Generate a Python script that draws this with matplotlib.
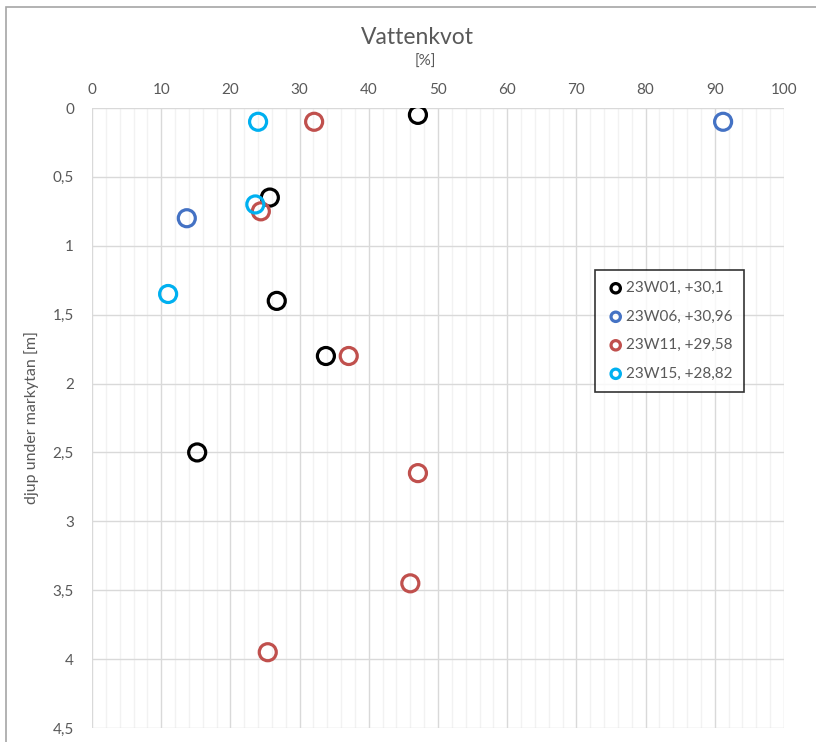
import numpy as np
import matplotlib.pyplot as plt
from matplotlib.patches import Rectangle
from matplotlib.ticker import MultipleLocator, FuncFormatter

plt.rcParams['font.family'] = ['Lato', 'DejaVu Sans']

# vattenkvot [%] och djup [m] per borrpunkt
w01_x = [47.1, 25.7, 26.7, 33.8, 15.2]
w01_y = [0.05, 0.65, 1.4, 1.8, 2.5]
w06_x = [91.2, 13.7]
w06_y = [0.1, 0.8]
w11_x = [32.1, 24.4, 37.1, 47.1, 46.0, 25.4]
w11_y = [0.1, 0.75, 1.8, 2.65, 3.45, 3.95]
w15_x = [24.0, 23.6, 11.0]
w15_y = [0.1, 0.7, 1.35]

labels = ['23W01, +30,1', '23W06, +30,96', '23W11, +29,58', '23W15, +28,82']
colors = ['#000000', '#4472C4', '#C0504D', '#00B0F0']

txt = '#595959'

fig = plt.figure(figsize=(8.16, 7.42), dpi=100)
ax = fig.add_axes([92/816, 14/742, 692/816, 620/742])

series = [(w01_x, w01_y), (w06_x, w06_y), (w11_x, w11_y), (w15_x, w15_y)]
for (xs, ys), lab, c in zip(series, labels, colors):
    ax.scatter(xs, ys, s=150, facecolors='none', edgecolors=c, linewidths=2.3,
               label=lab, zorder=3)

ax.set_xlim(0, 100)
ax.set_ylim(4.5, 0)
ax.xaxis.set_major_locator(MultipleLocator(10))
ax.xaxis.set_minor_locator(MultipleLocator(2))
ax.yaxis.set_major_locator(MultipleLocator(0.5))
ax.xaxis.tick_top()
ax.yaxis.set_major_formatter(FuncFormatter(lambda v, p: ('%g' % v).replace('.', ',')))
ax.tick_params(which='both', length=0, colors=txt, labelsize=11)
ax.tick_params(axis='x', pad=8)
ax.tick_params(axis='y', pad=13)
ax.grid(which='major', color='#D9D9D9', linewidth=1)
ax.grid(which='minor', axis='x', color='#F2F2F2', linewidth=1)
ax.set_axisbelow(True)
for s in ax.spines.values():
    s.set_visible(False)

ax.set_ylabel('djup under markytan [m]', color=txt, fontsize=11.5, labelpad=10)
fig.text(417/816, 1 - 37/742, 'Vattenkvot', ha='center', va='center', fontsize=16.5, color=txt)
fig.text(425/816, 1 - 62/742, '[%]', ha='center', va='center', fontsize=11, color=txt)

leg = ax.legend(loc='upper left', bbox_to_anchor=(0.727, 0.739), borderaxespad=0,
                frameon=True, fancybox=False, edgecolor='black', fontsize=11,
                labelspacing=0.95, handletextpad=0.05, handlelength=1.2,
                borderpad=0.75, markerscale=0.55)
leg.get_frame().set_linewidth(1.2)
for t in leg.get_texts():
    t.set_color(txt)

fig.patches.append(Rectangle((6/816, -0.1), 1.2, 1 - 7/742 + 0.1, transform=fig.transFigure,
                             fill=False, edgecolor='#A6A6A6', linewidth=1.2))

fig.savefig('out.png', dpi=100)
